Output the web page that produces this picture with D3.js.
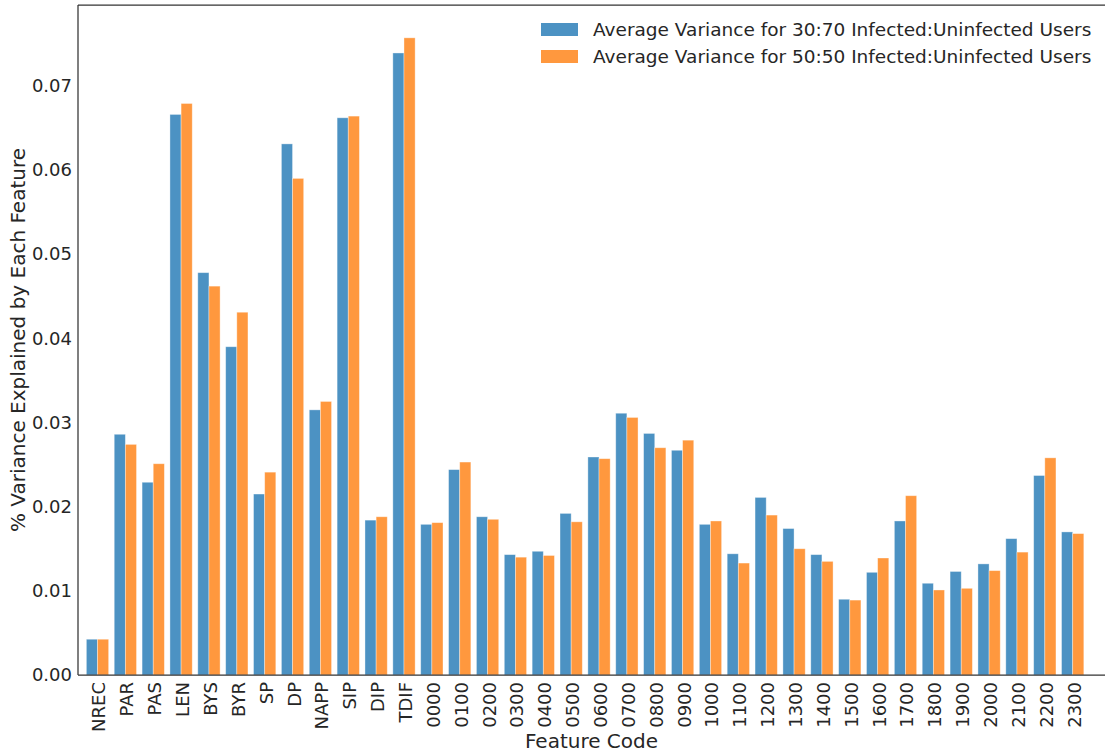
<!DOCTYPE html>
<html>
<head>
<meta charset="utf-8">
<script src="https://cdn.jsdelivr.net/npm/d3@7"></script>
<style>
  body { margin: 0; background: #fff; }
  text { font-family: "DejaVu Sans", sans-serif; fill: #262626; }
</style>
</head>
<body>
<div id="chart"></div>
<script>
// feature codes along the x axis
const features = ["NREC", "PAR", "PAS", "LEN", "BYS", "BYR", "SP", "DP", "NAPP", "SIP", "DIP", "TDIF",
  "0000", "0100", "0200", "0300", "0400", "0500", "0600", "0700", "0800", "0900", "1000", "1100",
  "1200", "1300", "1400", "1500", "1600", "1700", "1800", "1900", "2000", "2100", "2200", "2300"];

// average variance, 30:70 infected:uninfected
const var3070 = [0.00425, 0.0286, 0.0229, 0.0666, 0.0478, 0.0390, 0.0215, 0.0631, 0.0315, 0.0662, 0.0184, 0.0739,
  0.0179, 0.0244, 0.0188, 0.0143, 0.0147, 0.0192, 0.0259, 0.0311, 0.0287, 0.0267, 0.0179, 0.0144,
  0.0211, 0.0174, 0.0143, 0.0090, 0.0122, 0.0183, 0.0109, 0.0123, 0.0132, 0.0162, 0.0237, 0.0170];

// average variance, 50:50 infected:uninfected
const var5050 = [0.00425, 0.0274, 0.0251, 0.0679, 0.0462, 0.0431, 0.0241, 0.0590, 0.0325, 0.0664, 0.0188, 0.0757,
  0.0181, 0.0253, 0.0185, 0.0140, 0.0142, 0.0182, 0.0257, 0.0306, 0.0270, 0.0279, 0.0183, 0.0133,
  0.0190, 0.0150, 0.0135, 0.0089, 0.0139, 0.0213, 0.0101, 0.0103, 0.0124, 0.0146, 0.0258, 0.0168];

const seriesNames = ["Average Variance for 30:70 Infected:Uninfected Users",
                     "Average Variance for 50:50 Infected:Uninfected Users"];
const yTicks = [0, 0.01, 0.02, 0.03, 0.04, 0.05, 0.06, 0.07];

const width = 1105, height = 756;
const plotL = 78, plotT = 5, plotR = 1105, plotB = 675;
const colors = ["#4c92c3", "#ff983e"];
const barW = 0.4;

const svg = d3.select("#chart").append("svg")
    .attr("width", width)
    .attr("height", height);

const x = d3.scaleLinear().domain([-0.7, 36.16]).range([plotL, plotR]);
const y = d3.scaleLinear().domain([0, 0.0796]).range([plotB, plotT]);

// bars
const series = [var3070, var5050];
series.forEach((vals, s) => {
    svg.append("g").selectAll("rect")
        .data(vals)
        .enter().append("rect")
            .attr("x", (d, i) => x(i - barW + s * barW))
            .attr("width", x(barW) - x(0))
            .attr("y", d => y(d))
            .attr("height", d => y(0) - y(d))
            .attr("fill", colors[s])
            .attr("stroke", "#fff")
            .attr("stroke-opacity", 0.45)
            .attr("stroke-width", 0.8);
});

// y axis
const yAxis = svg.append("g")
    .attr("transform", `translate(${plotL},0)`)
    .call(d3.axisLeft(y).tickValues(yTicks).tickFormat(d3.format(".2f")).tickSize(0).tickPadding(6));
yAxis.select(".domain").remove();
yAxis.selectAll("text").style("font-size", "18px");

// x axis
const xAxis = svg.append("g")
    .attr("transform", `translate(0,${plotB})`)
    .call(d3.axisBottom(x).tickValues(d3.range(features.length)).tickFormat(i => features[i]).tickSize(0));
xAxis.select(".domain").remove();
xAxis.selectAll("text")
    .style("font-size", "18px")
    .attr("text-anchor", "end")
    .attr("transform", "rotate(-90)")
    .attr("x", -7)
    .attr("y", 1)
    .attr("dx", 0)
    .attr("dy", "0.36em");

// spines
svg.append("line").attr("x1", plotL).attr("x2", plotR).attr("y1", plotT).attr("y2", plotT)
    .attr("stroke", "#333").attr("stroke-width", 1.25);
svg.append("line").attr("x1", plotL).attr("x2", plotL).attr("y1", plotT).attr("y2", plotB)
    .attr("stroke", "#333").attr("stroke-width", 1.25);
svg.append("line").attr("x1", plotL).attr("x2", plotR).attr("y1", plotB).attr("y2", plotB)
    .attr("stroke", "#333").attr("stroke-width", 1.25);

// axis labels
svg.append("text")
    .attr("x", (plotL + plotR) / 2)
    .attr("y", 748)
    .attr("text-anchor", "middle")
    .style("font-size", "20px")
    .text("Feature Code");

svg.append("text")
    .attr("transform", `translate(25,${(plotT + plotB) / 2}) rotate(-90)`)
    .attr("text-anchor", "middle")
    .style("font-size", "20px")
    .text("% Variance Explained by Each Feature");

// legend
const legend = svg.append("g");
seriesNames.forEach((name, s) => {
    const ly = 23 + s * 27;
    legend.append("rect")
        .attr("x", 541).attr("y", ly)
        .attr("width", 37).attr("height", 13)
        .attr("fill", colors[s]);
    legend.append("text")
        .attr("x", 593).attr("y", ly + 13)
        .style("font-size", "18.5px")
        .text(name);
});
</script>
</body>
</html>
